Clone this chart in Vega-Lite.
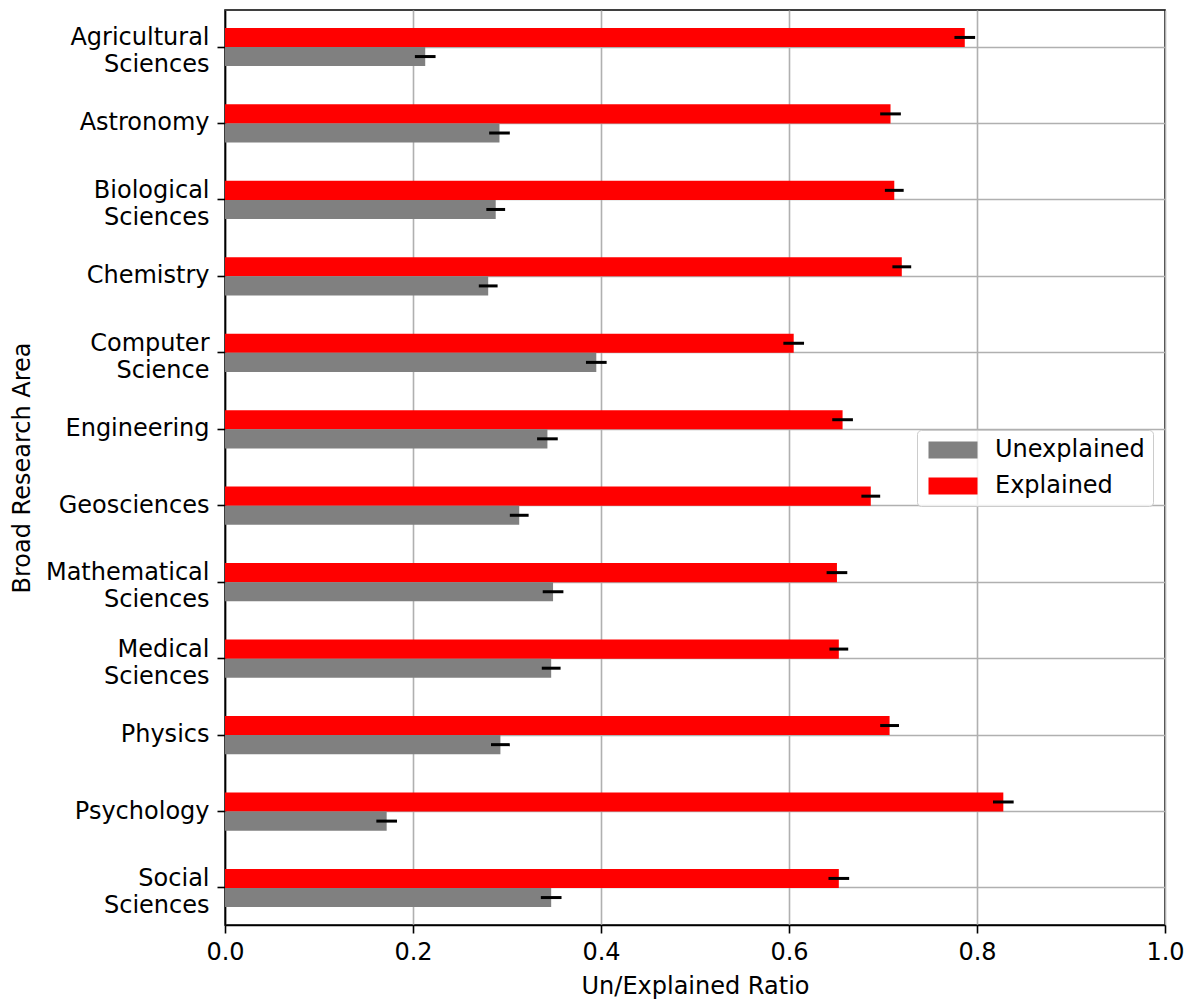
{
  "$schema": "https://vega.github.io/schema/vega-lite/v6.json",
  "width": 940,
  "height": 915,
  "autosize": {"type": "none"},
  "padding": {"left": 225, "top": 10, "right": 28, "bottom": 78},
  "background": "white",
  "config": {
    "font": "DejaVu Sans",
    "view": {"stroke": "black", "strokeWidth": 1.6},
    "axis": {
      "domainColor": "black",
      "domainWidth": 1.6,
      "tickColor": "black",
      "tickWidth": 1.6,
      "tickSize": 8,
      "labelColor": "black",
      "labelFontSize": 24,
      "titleColor": "black",
      "titleFontSize": 24,
      "titleFontWeight": "normal",
      "gridColor": "#b0b0b0",
      "gridWidth": 1.6,
      "gridOpacity": 1,
      "zindex": 1
    }
  },
  "data": {
    "values": [
      {"area": "Agricultural Sciences", "type": "Explained", "ratio": 0.787, "lo": 0.776, "hi": 0.798},
      {"area": "Agricultural Sciences", "type": "Unexplained", "ratio": 0.213, "lo": 0.202, "hi": 0.224},
      {"area": "Astronomy", "type": "Explained", "ratio": 0.708, "lo": 0.697, "hi": 0.719},
      {"area": "Astronomy", "type": "Unexplained", "ratio": 0.292, "lo": 0.281, "hi": 0.303},
      {"area": "Biological Sciences", "type": "Explained", "ratio": 0.712, "lo": 0.702, "hi": 0.722},
      {"area": "Biological Sciences", "type": "Unexplained", "ratio": 0.288, "lo": 0.278, "hi": 0.298},
      {"area": "Chemistry", "type": "Explained", "ratio": 0.720, "lo": 0.710, "hi": 0.730},
      {"area": "Chemistry", "type": "Unexplained", "ratio": 0.280, "lo": 0.270, "hi": 0.290},
      {"area": "Computer Science", "type": "Explained", "ratio": 0.605, "lo": 0.594, "hi": 0.616},
      {"area": "Computer Science", "type": "Unexplained", "ratio": 0.395, "lo": 0.384, "hi": 0.406},
      {"area": "Engineering", "type": "Explained", "ratio": 0.657, "lo": 0.646, "hi": 0.668},
      {"area": "Engineering", "type": "Unexplained", "ratio": 0.343, "lo": 0.332, "hi": 0.354},
      {"area": "Geosciences", "type": "Explained", "ratio": 0.687, "lo": 0.677, "hi": 0.697},
      {"area": "Geosciences", "type": "Unexplained", "ratio": 0.313, "lo": 0.303, "hi": 0.323},
      {"area": "Mathematical Sciences", "type": "Explained", "ratio": 0.651, "lo": 0.640, "hi": 0.662},
      {"area": "Mathematical Sciences", "type": "Unexplained", "ratio": 0.349, "lo": 0.338, "hi": 0.360},
      {"area": "Medical Sciences", "type": "Explained", "ratio": 0.653, "lo": 0.643, "hi": 0.663},
      {"area": "Medical Sciences", "type": "Unexplained", "ratio": 0.347, "lo": 0.337, "hi": 0.357},
      {"area": "Physics", "type": "Explained", "ratio": 0.707, "lo": 0.697, "hi": 0.717},
      {"area": "Physics", "type": "Unexplained", "ratio": 0.293, "lo": 0.283, "hi": 0.303},
      {"area": "Psychology", "type": "Explained", "ratio": 0.828, "lo": 0.817, "hi": 0.839},
      {"area": "Psychology", "type": "Unexplained", "ratio": 0.172, "lo": 0.161, "hi": 0.183},
      {"area": "Social Sciences", "type": "Explained", "ratio": 0.653, "lo": 0.642, "hi": 0.664},
      {"area": "Social Sciences", "type": "Unexplained", "ratio": 0.347, "lo": 0.336, "hi": 0.358}
    ]
  },
  "encoding": {
    "y": {
      "field": "area",
      "type": "nominal",
      "sort": null,
      "scale": {"paddingInner": 0.5, "paddingOuter": 0.234},
      "axis": {
        "title": "Broad Research Area",
        "grid": true,
        "bandPosition": 0.5,
        "labelExpr": "split(datum.label, ' ')",
        "labelLineHeight": 27,
        "labelOffset": {"condition": {"test": "indexof(datum.label, ' ') >= 0", "value": -9}, "value": 0},
        "labelPadding": 8,
        "titlePadding": 11
      }
    },
    "yOffset": {
      "field": "type",
      "type": "nominal",
      "sort": ["Explained", "Unexplained"],
      "scale": {"paddingInner": 0, "paddingOuter": 0}
    }
  },
  "layer": [
    {
      "mark": {"type": "bar"},
      "encoding": {
        "x": {
          "field": "ratio",
          "type": "quantitative",
          "scale": {"domain": [0, 1], "nice": false, "zero": true},
          "axis": {
            "title": "Un/Explained Ratio",
            "values": [0, 0.2, 0.4, 0.6, 0.8, 1.0],
            "format": ".1f",
            "grid": true,
            "labelPadding": 7,
            "titlePadding": 10,
            "labelFlush": false
          }
        },
        "color": {
          "field": "type",
          "type": "nominal",
          "scale": {"domain": ["Unexplained", "Explained"], "range": ["#808080", "#ff0000"]},
          "legend": {
            "orient": "none",
            "legendX": 692,
            "legendY": 420,
            "title": null,
            "symbolType": "M-1,-1H4.765V1H-1Z",
            "symbolSize": 289,
            "symbolStrokeWidth": 0,
            "symbolOpacity": 1,
            "labelFontSize": 24,
            "labelColor": "black",
            "labelOffset": 46,
            "rowPadding": 12,
            "padding": 8,
            "fillColor": "rgba(255,255,255,0.8)",
            "strokeColor": "#cccccc",
            "cornerRadius": 4
          }
        }
      }
    },
    {
      "mark": {"type": "rule", "color": "black", "strokeWidth": 3},
      "encoding": {
        "x": {"field": "lo", "type": "quantitative"},
        "x2": {"field": "hi"}
      }
    }
  ]
}
